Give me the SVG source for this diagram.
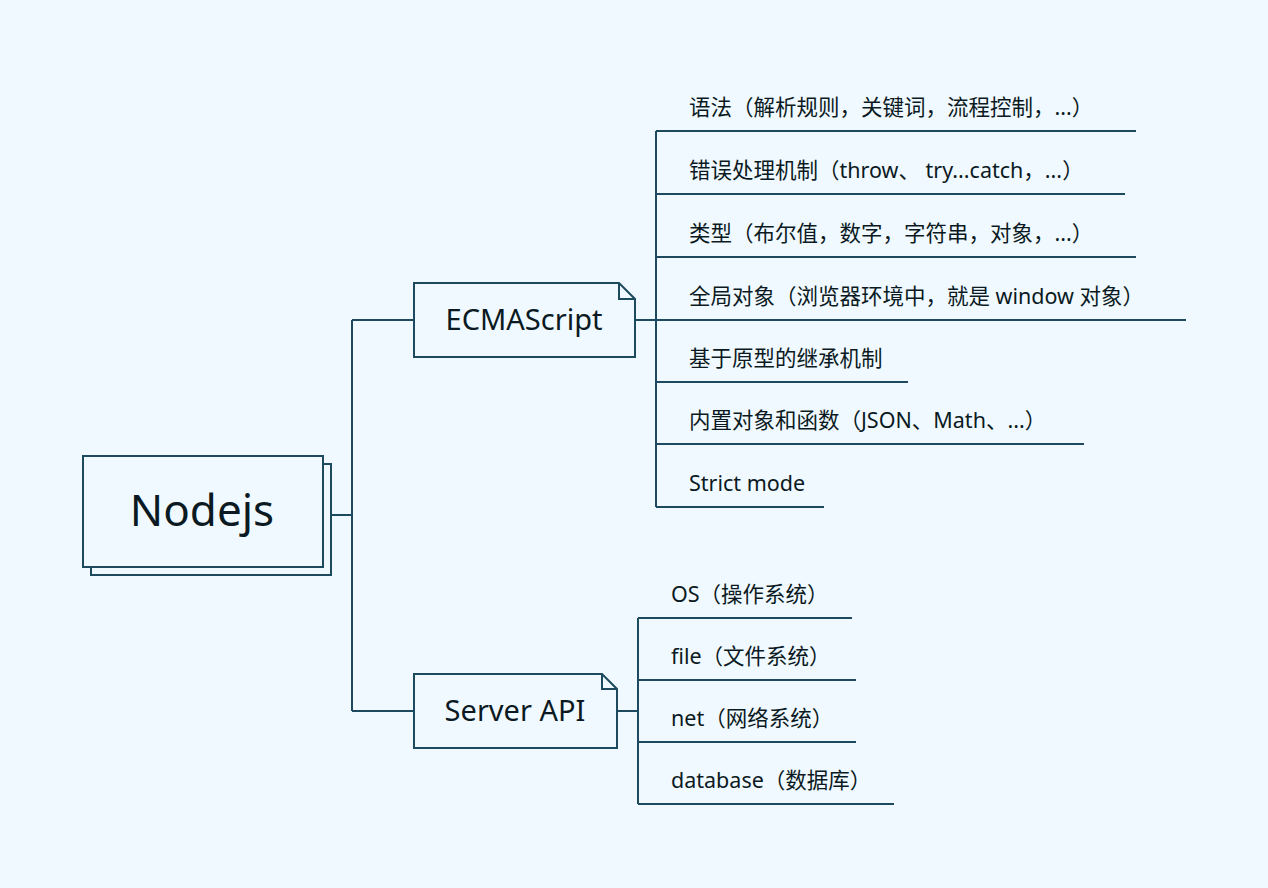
<svg xmlns="http://www.w3.org/2000/svg" width="1268" height="888" viewBox="0 0 1268 888">
<style>
.bg{fill:#F0F9FF}
.box{fill:#F0F9FF;stroke:#1D4A5E;stroke-width:2}
.ln{fill:none;stroke:#1D4A5E;stroke-width:2}
.t{font-family:"Noto Sans","Noto Sans CJK SC",sans-serif;fill:#0B1A22}
.leaf{font-size:21.5px}
</style>
<rect class="bg" x="0" y="0" width="1268" height="888"/>
<g id="connectors">
<path class="ln" d="M331 515H352M352 320V711M352 320H414M352 711H414"/>
<path class="ln" d="M635 320H656M656 131V507"/>
<path class="ln" d="M656 131H1136M656 194H1125M656 257H1136M656 320H1186M656 382H908M656 444H1084M656 507H824"/>
<path class="ln" d="M617 711H638M638 618V804"/>
<path class="ln" d="M638 618H852M638 680H856M638 742H856M638 804H894"/>
</g>
<g id="nodejs">
<rect class="box" x="91" y="464" width="240" height="111"/>
<rect class="box" x="83" y="456" width="240" height="111"/>
<text class="t" x="202" y="526" font-size="44" text-anchor="middle">Nodejs</text>
</g>
<g id="ecmascript">
<path class="box" d="M414 283H619L635 299V357H414Z"/>
<path class="ln" d="M619 283V299H635"/>
<text class="t" x="524" y="330" font-size="29" text-anchor="middle">ECMAScript</text>
</g>
<g id="serverapi">
<path class="box" d="M414 674H602L617 689V748H414Z"/>
<path class="ln" d="M602 674V689H617"/>
<text class="t" x="515" y="721" font-size="29" text-anchor="middle">Server API</text>
</g>
<g id="e1"><text class="t leaf" x="689" y="115">语法（解析规则，关键词，流程控制，...）</text></g>
<g id="e2"><text class="t leaf" x="689" y="178">错误处理机制（throw、 try...catch，...）</text></g>
<g id="e3"><text class="t leaf" x="689" y="241">类型（布尔值，数字，字符串，对象，...）</text></g>
<g id="e4"><text class="t leaf" x="689" y="304">全局对象（浏览器环境中，就是 window 对象）</text></g>
<g id="e5"><text class="t leaf" x="689" y="366">基于原型的继承机制</text></g>
<g id="e6"><text class="t leaf" x="689" y="428">内置对象和函数（JSON、Math、...）</text></g>
<g id="e7"><text class="t leaf" x="689" y="491">Strict mode</text></g>
<g id="s1"><text class="t leaf" x="671" y="602">OS（操作系统）</text></g>
<g id="s2"><text class="t leaf" x="671" y="664">file（文件系统）</text></g>
<g id="s3"><text class="t leaf" x="671" y="726">net（网络系统）</text></g>
<g id="s4"><text class="t leaf" x="671" y="788">database（数据库）</text></g>
</svg>
